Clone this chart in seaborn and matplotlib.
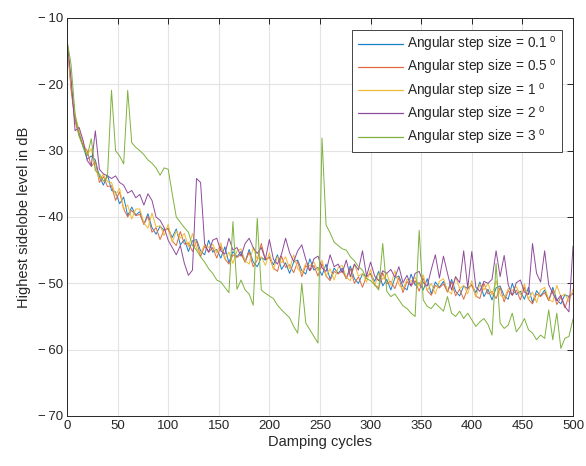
import numpy as np
import pandas as pd
import matplotlib
matplotlib.use("Agg")
import matplotlib.pyplot as plt
from matplotlib.ticker import FixedLocator, FixedFormatter
import seaborn as sns

cycles = list(range(0, 501, 4))

step_01 = [-13.3, -20.3, -25.2, -27.3, -29.4, -31.3, -30.8, -31.4, -33.9, -35.2,
           -33.6, -36.0, -36.2, -38.0, -37.0, -39.8, -38.5, -39.7, -39.2, -41.1,
           -39.5, -41.6, -42.6, -41.4, -42.0, -41.7, -43.1, -41.8, -44.2, -43.4,
           -45.2, -43.6, -43.4, -45.1, -45.7, -43.5, -45.3, -44.9, -46.2, -44.5,
           -46.9, -45.2, -46.0, -45.2, -46.8, -44.9, -46.8, -47.5, -46.1, -46.5,
           -46.0, -47.2, -45.7, -47.9, -46.9, -48.5, -46.8, -46.5, -48.1, -48.6,
           -46.3, -48.0, -47.6, -48.8, -47.1, -49.4, -47.7, -48.5, -47.7, -49.3,
           -47.4, -49.3, -50.0, -48.6, -49.0, -48.5, -49.7, -48.2, -50.4, -49.4,
           -51.0, -49.2, -48.9, -50.5, -51.0, -48.6, -50.3, -49.9, -51.0, -49.3,
           -51.6, -49.8, -50.6, -49.7, -51.3, -49.4, -51.2, -51.9, -50.4, -50.8,
           -50.2, -51.4, -49.8, -52.0, -50.9, -52.5, -50.7, -50.4, -51.9, -52.4,
           -50.0, -51.7, -51.2, -52.4, -50.6, -52.9, -51.1, -51.9, -51.0, -52.6,
           -50.6, -52.5, -53.1, -51.7, -52.0, -51.5]

step_05 = [-13.3, -20.8, -25.6, -27.8, -29.2, -30.0, -32.4, -31.6, -34.8, -33.9,
           -35.4, -35.3, -37.5, -36.2, -38.8, -40.0, -39.0, -39.8, -39.6, -41.1,
           -39.9, -42.3, -41.6, -43.4, -41.9, -41.8, -43.6, -44.3, -42.2, -44.1,
           -43.9, -45.2, -43.6, -46.0, -44.4, -45.3, -44.6, -46.2, -44.4, -46.3,
           -47.1, -45.7, -46.1, -45.6, -46.8, -45.3, -47.5, -46.5, -44.0, -46.4,
           -46.1, -47.7, -48.2, -45.9, -47.6, -47.2, -48.4, -46.7, -49.0, -47.3,
           -48.1, -47.3, -48.9, -47.0, -48.9, -49.6, -48.2, -48.6, -48.1, -49.3,
           -47.8, -50.0, -49.0, -50.6, -48.9, -48.6, -50.2, -50.7, -48.4, -50.1,
           -49.7, -50.8, -49.1, -51.4, -49.7, -50.4, -49.6, -51.2, -49.2, -51.1,
           -51.8, -50.3, -50.7, -50.1, -51.3, -49.8, -51.9, -50.9, -52.4, -50.7,
           -50.3, -51.9, -52.3, -50.0, -51.6, -51.2, -52.3, -50.6, -52.8, -51.1,
           -51.8, -51.0, -52.5, -50.6, -52.4, -53.1, -51.6, -52.0, -51.4, -52.6,
           -51.0, -53.2, -52.1, -53.7, -51.9, -51.6]

step_1 = [-13.3, -20.0, -24.6, -27.0, -28.8, -30.6, -29.7, -32.7, -34.3, -33.6,
          -34.7, -34.8, -36.7, -35.7, -38.8, -38.2, -40.3, -38.8, -38.8, -40.9,
          -41.7, -39.4, -41.5, -41.3, -42.8, -41.1, -43.8, -42.1, -43.2, -42.5,
          -44.5, -42.5, -44.7, -45.5, -44.1, -44.6, -44.1, -45.4, -43.9, -46.3,
          -45.3, -47.0, -45.1, -44.8, -46.6, -47.1, -44.6, -46.4, -46.0, -47.3,
          -45.4, -47.9, -46.0, -46.9, -46.0, -47.8, -45.7, -47.8, -48.5, -47.0,
          -47.4, -46.8, -48.1, -46.5, -48.9, -47.8, -49.5, -47.6, -47.3, -49.1,
          -49.6, -47.1, -48.9, -48.5, -49.8, -47.9, -50.4, -48.5, -49.4, -48.5,
          -50.3, -48.1, -50.2, -50.9, -49.4, -49.7, -49.1, -50.4, -48.7, -51.1,
          -50.0, -51.6, -49.7, -49.3, -51.1, -51.6, -49.0, -50.8, -50.3, -51.6,
          -49.6, -52.1, -50.1, -51.0, -50.0, -51.8, -49.6, -51.7, -52.3, -50.8,
          -51.1, -50.5, -51.7, -50.1, -52.4, -51.3, -52.9, -51.0, -50.6, -52.4,
          -52.8, -50.3, -52.0, -51.6, -52.8, -50.9]

step_2 = [-13.3, -19.0, -27.0, -26.5, -28.5, -31.5, -32.3, -27.0, -32.8, -33.5,
          -33.8, -34.2, -33.8, -34.8, -35.2, -36.4, -36.0, -37.1, -36.6, -38.2,
          -36.5, -37.5, -40.0, -40.5, -41.6, -43.5, -44.6, -45.7, -44.3, -47.0,
          -48.8, -48.0, -34.2, -34.8, -44.0, -45.3, -43.5, -43.2, -45.1, -45.6,
          -43.2, -45.0, -44.6, -45.9, -44.0, -43.2, -44.6, -45.5, -44.6, -46.4,
          -43.4, -46.4, -47.1, -45.6, -43.2, -45.4, -46.7, -45.1, -44.2, -46.4,
          -48.1, -46.3, -45.9, -47.7, -48.2, -45.7, -47.5, -47.1, -48.4, -46.5,
          -49.0, -47.1, -48.0, -45.1, -48.9, -46.8, -48.9, -49.6, -48.1, -48.5,
          -47.9, -49.1, -47.5, -49.9, -48.8, -50.4, -48.5, -48.2, -49.9, -50.4,
          -47.9, -45.7, -49.2, -45.9, -48.5, -51.0, -49.0, -49.9, -45.1, -50.7,
          -45.2, -50.6, -51.2, -49.7, -50.0, -49.4, -45.1, -49.0, -45.8, -50.2,
          -51.8, -49.9, -49.5, -51.3, -51.7, -44.0, -48.5, -49.8, -45.1, -50.2,
          -51.5, -52.6, -51.8, -53.5, -54.3, -44.4]

step_3 = [-13.3, -17.0, -24.5, -27.8, -29.5, -30.8, -28.2, -33.0, -33.5, -34.6,
          -34.0, -20.9, -30.0, -30.8, -32.0, -20.9, -28.8, -29.5, -30.0, -30.6,
          -31.4, -31.9, -32.6, -33.7, -32.6, -32.8, -36.5, -40.0, -40.8, -41.6,
          -42.3, -44.3, -45.0, -46.0, -46.8, -47.8, -48.5, -49.5, -49.8, -50.6,
          -51.4, -40.7, -50.9, -49.5, -51.0, -51.6, -53.3, -40.2, -51.0, -51.5,
          -51.9, -52.3, -53.3, -54.0, -54.6, -55.2, -56.5, -57.5, -50.0, -56.0,
          -57.0, -58.0, -59.0, -28.1, -41.2, -42.4, -43.8, -44.3, -44.8, -45.0,
          -46.0, -46.6, -47.5, -48.0, -49.3, -49.6, -50.2, -51.0, -44.0, -51.2,
          -52.0, -51.6, -52.5, -53.4, -53.8, -54.5, -55.0, -42.0, -52.5, -53.5,
          -53.8, -53.0, -53.6, -54.2, -52.0, -54.5, -55.0, -54.2, -55.3, -54.5,
          -55.5, -56.5, -55.8, -55.3, -56.2, -57.8, -47.0, -56.0, -56.8, -56.3,
          -54.5, -57.3, -56.5, -55.3, -57.0, -57.5, -58.5, -57.8, -58.3, -54.0,
          -58.5, -54.5, -59.8, -58.3, -58.0, -55.4]

labels = ["Angular step size = 0.1 $^{\\rm o}$",
          "Angular step size = 0.5 $^{\\rm o}$",
          "Angular step size = 1 $^{\\rm o}$",
          "Angular step size = 2 $^{\\rm o}$",
          "Angular step size = 3 $^{\\rm o}$"]
colors = ["#1A80C8", "#E06A40", "#F0BA35", "#8E4A9C", "#7DB23C"]

x_ticks = list(range(0, 501, 50))
y_ticks = list(range(-70, -9, 10))
y_tick_labels = ["\u2212\u200970", "\u2212\u200960", "\u2212\u200950", "\u2212\u200940",
                 "\u2212\u200930", "\u2212\u200920", "\u2212\u200910"]

series = [step_01, step_05, step_1, step_2, step_3]
frames = []
for lab, vals in zip(labels, series):
    frames.append(pd.DataFrame({"cycles": cycles, "level": vals, "step": lab}))
df = pd.concat(frames, ignore_index=True)

sns.set_style("white")
plt.rcParams["font.family"] = ["Liberation Sans", "DejaVu Sans"]
plt.rcParams["mathtext.fontset"] = "custom"
plt.rcParams["mathtext.rm"] = "Liberation Sans"

fig = plt.figure(figsize=(5.86, 4.66), dpi=100)
ax = fig.add_axes([0.1143, 0.1073, 0.8635, 0.8541])

sns.lineplot(data=df, x="cycles", y="level", hue="step", palette=colors,
             hue_order=labels, estimator=None, sort=False, linewidth=0.7,
             ax=ax, legend=True)

ax.set_xlim(0, 500)
ax.set_ylim(-70, -10)
ax.set_xticks(x_ticks)
ax.yaxis.set_major_locator(FixedLocator(y_ticks))
ax.yaxis.set_major_formatter(FixedFormatter(y_tick_labels))
ax.grid(True, color="#e3e3e3", linewidth=0.8)
ax.set_axisbelow(True)
for s in ax.spines.values():
    s.set_color("#262626")
    s.set_linewidth(0.7)
    s.set_visible(True)
ax.tick_params(direction="in", top=True, right=True, length=4, width=0.7,
               color="#262626", labelsize=9.5, labelcolor="#262626", pad=3)
ax.set_xlabel("Damping cycles", fontsize=10.5, color="#262626", labelpad=2)
ax.set_ylabel("Highest sidelobe level in dB", fontsize=10.5, color="#262626", labelpad=5)

handles, _ = ax.get_legend_handles_labels()
leg = ax.legend(handles, labels, loc="upper right", bbox_to_anchor=(0.978, 0.970),
                borderaxespad=0, fancybox=False, framealpha=1, edgecolor="#262626",
                fontsize=9.8, handlelength=3.3, labelspacing=0.3, borderpad=0.4,
                handletextpad=0.3)
leg.get_frame().set_linewidth(0.6)
for line in leg.get_lines():
    line.set_linewidth(0.9)

fig.savefig("out.png", dpi=100)
